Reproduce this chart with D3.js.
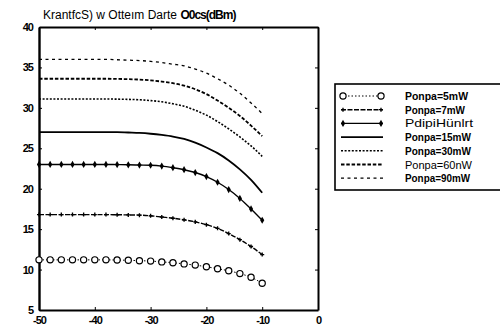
<!DOCTYPE html>
<html>
<head>
<meta charset="utf-8">
<script src="https://cdn.jsdelivr.net/npm/d3@7"></script>
<style>
  html, body { margin: 0; padding: 0; background: #fff; }
  svg { display: block; }
  text { font-family: "Liberation Sans", Arial, sans-serif; fill: #000; }
</style>
</head>
<body>
<svg id="chart" width="500" height="331"></svg>
<script>
// Input detuning sweep (x) and output power per pump level (y)
const detuning = [-50, -48, -46, -44, -42, -40, -38, -36, -34, -32, -30,
                  -28, -26, -24, -22, -20, -18, -16, -14, -12, -10];

const pump5mW  = [11.2, 11.2, 11.2, 11.2, 11.2, 11.2, 11.2, 11.18, 11.15, 11.1, 11.05,
                  10.95, 10.85, 10.7, 10.55, 10.35, 10.1, 9.85, 9.5, 9.05, 8.3];
const pump7mW  = [16.8, 16.8, 16.8, 16.8, 16.8, 16.8, 16.8, 16.78, 16.76, 16.73, 16.65,
                  16.5, 16.35, 16.15, 15.9, 15.55, 15.1, 14.45, 13.7, 12.85, 11.85];
const pump10mW = [23.0, 23.0, 23.0, 23.0, 23.0, 23.0, 23.0, 22.98, 22.96, 22.93, 22.9,
                  22.8, 22.6, 22.35, 22.0, 21.5, 20.8, 19.9, 18.8, 17.5, 16.1];
const pump15mW = [27.0, 27.0, 27.0, 27.0, 27.0, 27.0, 27.0, 27.0, 26.95, 26.9, 26.8,
                  26.65, 26.45, 26.15, 25.7, 25.1, 24.4, 23.5, 22.4, 21.1, 19.5];
const pump30mW = [31.1, 31.1, 31.1, 31.1, 31.1, 31.1, 31.1, 31.08, 31.05, 31.0, 30.9,
                  30.75, 30.5, 30.2, 29.7, 29.1, 28.3, 27.4, 26.4, 25.3, 24.0];
const pump60mW = [33.6, 33.6, 33.6, 33.6, 33.6, 33.6, 33.6, 33.58, 33.55, 33.5, 33.4,
                  33.25, 33.05, 32.75, 32.3, 31.7, 30.9, 30.0, 29.0, 27.8, 26.5];
const pump90mW = [36.0, 36.0, 36.0, 36.0, 36.0, 36.0, 36.0, 35.95, 35.9, 35.85, 35.75,
                  35.6, 35.4, 35.2, 34.8, 34.3, 33.6, 32.8, 31.8, 30.6, 29.3];

const legendLabels = ["Ponpa=5mW", "Ponpa=7mW", "PdipiHünlrt", "Ponpa=15mW",
                      "Ponpa=30mW", "Ponpa=60nW", "Ponpa=90mW"];
const xTicks = [-50, -40, -30, -20, -10, 0];
const yTicks = [5, 10, 15, 20, 25, 30, 35, 40];
const titleMain = "KrantfcS) w Otteım Darte";
const titleUnit = "O0cs(dBm)";

// Line / marker style for each series
const styles = [
  { values: pump5mW,  width: 1.0, dash: "1.5,2",   marker: "circle" },
  { values: pump7mW,  width: 1.4, dash: "5,1.5",   marker: "cross" },
  { values: pump10mW, width: 1.4, dash: null,      marker: "diamond" },
  { values: pump15mW, width: 1.8, dash: null,      marker: null },
  { values: pump30mW, width: 1.6, dash: "2,1.6",   marker: null },
  { values: pump60mW, width: 1.8, dash: "3.5,1.8", marker: null },
  { values: pump90mW, width: 1.3, dash: "3,3.5",   marker: null }
];

const svg = d3.select("#chart");
const x = d3.scaleLinear().domain([-50, 0]).range([39, 318]);
const y = d3.scaleLinear().domain([5, 40]).range([310, 27]);

// Frame with inward ticks on every side
const fmt = d => String(d);
const tickFont = g => g.selectAll("text")
  .style("font-size", "11px").style("font-weight", "bold")
  .style("letter-spacing", "-1px");

svg.append("g").attr("transform", `translate(0,${y(5)})`)
  .call(d3.axisBottom(x).tickValues(xTicks).tickFormat(fmt).tickSizeInner(-3).tickSizeOuter(0).tickPadding(6))
  .call(tickFont)
  .call(g => g.select(".domain").attr("stroke-width", 2));
svg.append("g").attr("transform", `translate(${x(-50)},0)`)
  .call(d3.axisLeft(y).tickValues(yTicks).tickFormat(fmt).tickSizeInner(-3).tickSizeOuter(0).tickPadding(6))
  .call(tickFont)
  .call(g => g.select(".domain").attr("stroke-width", 2.4));
svg.append("g").attr("transform", `translate(0,${y(40)})`)
  .call(d3.axisTop(x).tickValues(xTicks).tickFormat("").tickSizeInner(-3).tickSizeOuter(0))
  .call(g => g.select(".domain").attr("stroke-width", 2.2));
svg.append("g").attr("transform", `translate(${x(0)},0)`)
  .call(d3.axisRight(y).tickValues(yTicks).tickFormat("").tickSizeInner(-3).tickSizeOuter(0))
  .call(g => g.select(".domain").attr("stroke-width", 2));

// Title
const title = svg.append("text").attr("x", 43).attr("y", 19).style("font-size", "12px");
title.append("tspan").text(titleMain + " ");
title.append("tspan").style("font-weight", "bold").style("letter-spacing", "-1px").text(titleUnit);

// Curves
const line = d3.line()
  .x((d, i) => x(detuning[i]))
  .y(d => y(d))
  .curve(d3.curveMonotoneX);

function drawMarkers(g, pts, kind) {
  if (kind === "circle") {
    g.selectAll("circle").data(pts).join("circle")
      .attr("cx", d => d[0]).attr("cy", d => d[1]).attr("r", 3.1)
      .attr("fill", "#fff").attr("stroke", "#000").attr("stroke-width", 1.2);
  } else if (kind === "cross") {
    g.selectAll("path").data(pts).join("path")
      .attr("transform", d => `translate(${d[0]},${d[1]})`)
      .attr("d", d3.symbol(d3.symbolCross, 9)).attr("fill", "#000");
  } else if (kind === "diamond") {
    g.selectAll("path").data(pts).join("path")
      .attr("transform", d => `translate(${d[0]},${d[1]})`)
      .attr("d", d3.symbol(d3.symbolDiamond, 15)).attr("fill", "#000");
  }
}

styles.forEach(s => {
  const g = svg.append("g");
  g.append("path").datum(s.values)
    .attr("d", line).attr("fill", "none").attr("stroke", "#000")
    .attr("stroke-width", s.width)
    .attr("stroke-dasharray", s.dash);
  if (s.marker) {
    const pts = s.values.map((v, i) => [x(detuning[i]), y(v)]);
    drawMarkers(g.append("g"), pts, s.marker);
  }
});

// Legend
const legend = svg.append("g");
legend.append("rect").attr("x", 335).attr("y", 84).attr("width", 175).attr("height", 106)
  .attr("fill", "#fff").attr("stroke", "#000").attr("stroke-width", 1.6);
const boldRows = [true, true, false, true, true, false, true];
const widths = [63, 60, 68, 66, 66, 67, 65];
legendLabels.forEach((lab, i) => {
  const cy = 96 + i * 13.7;
  const s = styles[i];
  const row = legend.append("g");
  row.append("line").attr("x1", 341).attr("x2", 383).attr("y1", cy).attr("y2", cy)
    .attr("stroke", "#000").attr("stroke-width", s.width).attr("stroke-dasharray", s.dash);
  if (s.marker) drawMarkers(row.append("g"), [[343, cy], [381, cy]], s.marker);
  const t = row.append("text").attr("x", 405).attr("y", cy + 4).text(lab)
    .attr("textLength", widths[i]).attr("lengthAdjust", "spacingAndGlyphs");
  if (boldRows[i]) t.style("font-size", "10px").style("font-weight", "bold");
  else t.style("font-size", "11.5px");
});
</script>
</body>
</html>
